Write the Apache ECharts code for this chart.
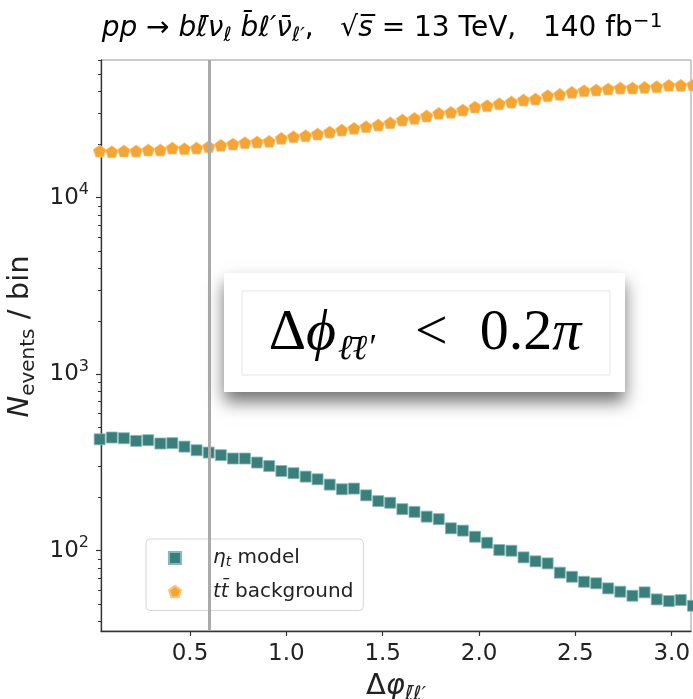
<!DOCTYPE html>
<html>
<head>
<meta charset="utf-8">
<script src="https://cdn.jsdelivr.net/npm/echarts@6/dist/echarts.min.js"></script>
<style>
html, body { margin: 0; padding: 0; background: #fff; }
#main { width: 693px; height: 699px; }
</style>
</head>
<body>
<div id="main"></div>
<script>
// bin centres in delta phi (50 bins over [0, pi])
const binCenters = [
    0.031, 0.094, 0.157, 0.220, 0.283, 0.346, 0.408, 0.471, 0.534, 0.597,
    0.660, 0.723, 0.785, 0.848, 0.911, 0.974, 1.037, 1.100, 1.162, 1.225,
    1.288, 1.351, 1.414, 1.477, 1.539, 1.602, 1.665, 1.728, 1.791, 1.854,
    1.916, 1.979, 2.042, 2.105, 2.168, 2.231, 2.293, 2.356, 2.419, 2.482,
    2.545, 2.608, 2.670, 2.733, 2.796, 2.859, 2.922, 2.985, 3.047, 3.110
];
const etaModel = [
    428, 438, 434, 419, 423, 405, 407, 389, 371, 360,
    348, 333, 333, 316, 302, 283, 275, 263, 254, 237,
    223, 225, 206, 191, 187, 172, 166, 156, 151, 134,
    130, 120, 111, 101, 100, 91.7, 87.1, 84.8, 75.1, 71.2,
    66.7, 65.4, 61.2, 58.6, 55.6, 58.1, 53.0, 51.9, 52.6, 48.8
];
const ttBackground = [
    18390, 18220, 18390, 18390, 18630, 18630, 19120, 18950, 19120, 19450,
    19810, 20150, 20490, 20680, 20870, 21700, 22160, 22450, 22960, 23560,
    24180, 24730, 25260, 25820, 26570, 27560, 28180, 29040, 30080, 30470,
    31400, 32650, 33210, 34090, 34850, 35770, 36250, 37840, 38540, 39560,
    40390, 40760, 41300, 41840, 41840, 42220, 42560, 43340, 43340, 43510
];
const xTicks = [0.5, 1.0, 1.5, 2.0, 2.5, 3.0];
const yMajorTicks = [100, 1000, 10000];
const yMinorTicks = [
    40, 50, 60, 70, 80, 90,
    200, 300, 400, 500, 600, 700, 800, 900,
    2000, 3000, 4000, 5000, 6000, 7000, 8000, 9000,
    20000, 30000, 40000, 50000, 60000
];
const cutValue = 0.6;

const SANS = 'DejaVu Sans';
const SERIF = 'Liberation Serif, DejaVu Serif';
const pentagon = 'path://M50,0 L97.55,34.55 L79.39,90.45 L20.61,90.45 L2.45,34.55 Z';

const nameEta = '\u03b7t model';
const nameTT = 'tt\u0304 background';

// rich styles for mathtext-like labels: r = roman, i = italic, s = italic subscript,
// su = roman subscript, p = superscript
function mathRich(size, lh) {
    const small = Math.round(size * 0.7);
    return {
        r: { fontFamily: SANS, fontSize: size, color: '#222', verticalAlign: 'middle', lineHeight: lh },
        i: { fontFamily: SANS, fontSize: size, color: '#222', fontStyle: 'italic', verticalAlign: 'middle', lineHeight: lh },
        s: { fontFamily: SANS, fontSize: small, color: '#222', fontStyle: 'italic', verticalAlign: 'bottom', lineHeight: small },
        su: { fontFamily: SANS, fontSize: small, color: '#222', verticalAlign: 'bottom', lineHeight: small },
        p: { fontFamily: SANS, fontSize: small, color: '#222', verticalAlign: 'top', lineHeight: small }
    };
}

let myChart = echarts.init(document.getElementById('main'));
myChart.setOption({
    animation: false,
    grid: {
        left: 101, right: 2, top: 60, bottom: 68,
        outerBoundsMode: 'none',
        show: true, borderColor: '#999', borderWidth: 1
    },
    xAxis: {
        type: 'value',
        min: 0.038,
        max: 3.1,
        name: '{r|\u0394}{i|\u03c6}{s|\u2113\u0304\u2113\u2032}',
        nameLocation: 'middle',
        nameGap: 32,
        nameTextStyle: { rich: mathRich(29, 36) },
        axisLine: { lineStyle: { color: '#333', width: 1.3 } },
        axisTick: { customValues: xTicks, length: 5, lineStyle: { color: '#333', width: 1.2 } },
        axisLabel: {
            customValues: xTicks,
            formatter: v => v.toFixed(1),
            fontFamily: SANS, fontSize: 23, lineHeight: 26, color: '#222', margin: 10
        },
        splitLine: { show: false }
    },
    yAxis: [{
        type: 'log',
        logBase: 10,
        min: 35.1,
        max: 60300,
        name: '{i|N}{su|events}{r| / bin}',
        nameLocation: 'middle',
        nameRotate: 90,
        nameGap: 60,
        nameTextStyle: { padding: [0, 0, 0, 18], rich: mathRich(29, 36) },
        axisLine: { show: true, lineStyle: { color: '#333', width: 1.3 } },
        axisTick: { customValues: yMajorTicks, length: 5, lineStyle: { color: '#333', width: 1.2 } },
        axisLabel: {
            customValues: yMajorTicks,
            formatter: v => '{r|10}{p|' + Math.round(Math.log10(v)) + '}',
            margin: 12,
            rich: mathRich(23, 31)
        },
        splitLine: { show: false }
    }, {
        type: 'log',
        logBase: 10,
        min: 35.1,
        max: 60300,
        position: 'left',
        axisLine: { show: false },
        axisTick: { customValues: yMinorTicks, length: 3, lineStyle: { color: '#333', width: 1 } },
        axisLabel: { show: false },
        splitLine: { show: false }
    }],
    legend: {
        orient: 'vertical',
        left: 146,
        top: 539,
        padding: [9, 10, 9, 22],
        itemGap: 12,
        itemWidth: 12,
        itemHeight: 12,
        selectedMode: false,
        backgroundColor: 'rgba(255,255,255,0.8)',
        borderColor: '#d6d6d6',
        borderWidth: 1,
        borderRadius: 4,
        textStyle: { fontFamily: SANS, fontSize: 20, color: '#222', padding: [0, 0, 0, 27], rich: mathRich(20, 23) },
        formatter: function (name) {
            if (name === nameEta) return '{i|\u03b7}{s|t}{r| model}';
            return '{i|tt\u0304}{r| background}';
        },
        data: [
            { name: nameEta, icon: 'rect' },
            { name: nameTT, icon: pentagon }
        ]
    },
    graphic: [{
        type: 'text',
        x: 382,
        y: 29,
        style: {
            text: '{i|pp}{r| \u2192 }{i|b\u2113\u0304\u03bd}{s|\u2113}{r| }{i|b\u0304\u2113\u2032\u03bd\u0304}{s|\u2113\u2032}{r|,   \u221a}{i|s\u0305}{r| = 13 TeV,   140 fb}{p|\u22121}',
            rich: mathRich(28, 34),
            align: 'center',
            verticalAlign: 'middle'
        }
    }, {
        type: 'group',
        children: [{
            type: 'rect',
            shape: { x: 224, y: 273, width: 401, height: 119 },
            style: {
                fill: '#fff',
                shadowBlur: 16,
                shadowOffsetY: 10,
                shadowColor: 'rgba(0,0,0,0.55)'
            },
            z: 10
        }, {
            type: 'rect',
            shape: { x: 242, y: 291, width: 368, height: 84 },
            style: { fill: 'none', stroke: '#e6e6e6', lineWidth: 1 },
            z: 11
        }, {
            type: 'text',
            x: 425,
            y: 334,
            z: 12,
            style: {
                text: '{r|\u0394}{i|\u03d5}{s|\u2113\u0304\u2113\u2032}{lt|<}{r|0.2}{i|\u03c0}',
                align: 'center',
                verticalAlign: 'middle',
                rich: {
                    r: { fontFamily: SERIF, fontSize: 58, color: '#111', verticalAlign: 'middle', lineHeight: 66 },
                    lt: { fontFamily: SERIF, fontSize: 58, color: '#111', verticalAlign: 'middle', lineHeight: 66, padding: [0, 32, 0, 36] },
                    i: { fontFamily: SERIF, fontSize: 58, color: '#111', fontStyle: 'italic', verticalAlign: 'middle', lineHeight: 66 },
                    s: { fontFamily: SERIF, fontSize: 35, color: '#111', fontStyle: 'italic', verticalAlign: 'bottom', lineHeight: 35, padding: [0, 4, 0, 2] }
                }
            }
        }]
    }],
    series: [{
        name: nameEta,
        type: 'scatter',
        clip: false,
        symbol: 'rect',
        symbolSize: 11,
        itemStyle: { color: '#3a7f7b', borderColor: '#86bab6', borderWidth: 0.8, opacity: 1 },
        data: binCenters.map((x, i) => [x, etaModel[i]]),
        markLine: {
            silent: true,
            symbol: 'none',
            label: { show: false },
            lineStyle: { color: '#aaaaaa', width: 3, type: 'solid' },
            data: [{ xAxis: cutValue }]
        }
    }, {
        name: nameTT,
        type: 'scatter',
        clip: false,
        symbol: pentagon,
        symbolSize: [12.5, 12],
        itemStyle: { color: '#f5a534', borderColor: '#f9c77a', borderWidth: 0.8, opacity: 1 },
        data: binCenters.map((x, i) => [x, ttBackground[i]])
    }]
});
</script>
</body>
</html>
